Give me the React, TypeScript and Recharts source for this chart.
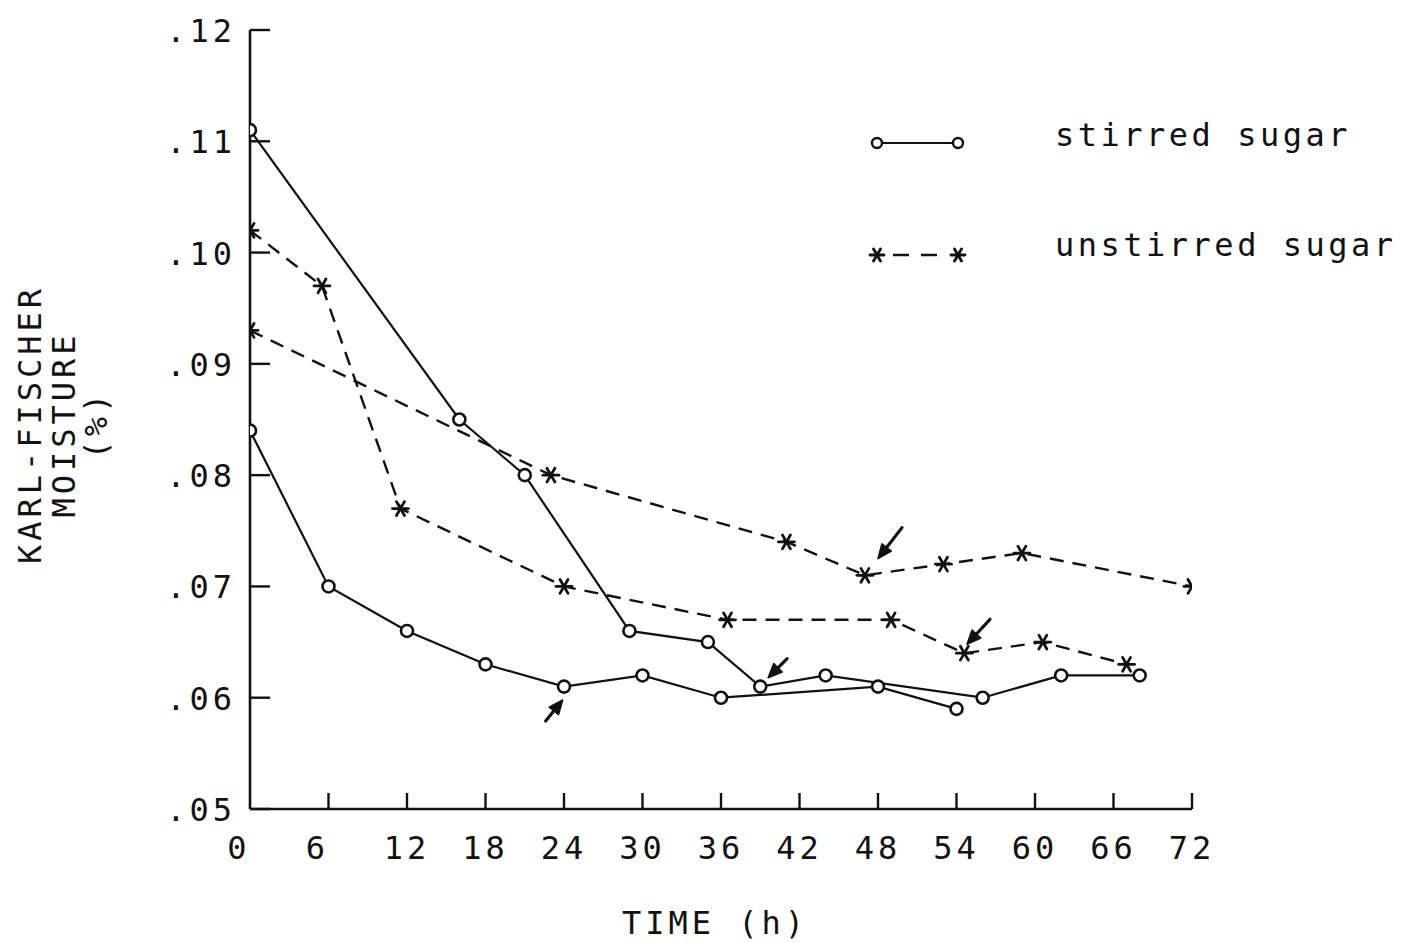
import React from 'react';
import { ComposedChart, Line, XAxis, YAxis, Legend } from 'recharts';

// ---------- data ----------
const timeTicks = [0, 6, 12, 18, 24, 30, 36, 42, 48, 54, 60, 66, 72];
const moistureTicks = [0.05, 0.06, 0.07, 0.08, 0.09, 0.1, 0.11, 0.12];
const moistureTickLabels = ['.05', '.06', '.07', '.08', '.09', '.10', '.11', '.12'];

const stirredRun1 = [
  { t: 0, v: 0.111 },
  { t: 16, v: 0.085 },
  { t: 21, v: 0.08 },
  { t: 29, v: 0.066 },
  { t: 35, v: 0.065 },
  { t: 39, v: 0.061 },
  { t: 44, v: 0.062 },
  { t: 56, v: 0.06 },
  { t: 62, v: 0.062 },
  { t: 68, v: 0.062 },
];

const stirredRun2 = [
  { t: 0, v: 0.084 },
  { t: 6, v: 0.07 },
  { t: 12, v: 0.066 },
  { t: 18, v: 0.063 },
  { t: 24, v: 0.061 },
  { t: 30, v: 0.062 },
  { t: 36, v: 0.06 },
  { t: 48, v: 0.061 },
  { t: 54, v: 0.059 },
];

const unstirredRun1 = [
  { t: 0, v: 0.093 },
  { t: 23, v: 0.08 },
  { t: 41, v: 0.074 },
  { t: 47, v: 0.071 },
  { t: 53, v: 0.072 },
  { t: 59, v: 0.073 },
  { t: 72, v: 0.07 },
];

const unstirredRun2 = [
  { t: 0, v: 0.102 },
  { t: 5.5, v: 0.097 },
  { t: 11.5, v: 0.077 },
  { t: 24, v: 0.07 },
  { t: 36.5, v: 0.067 },
  { t: 49, v: 0.067 },
  { t: 54.6, v: 0.064 },
  { t: 60.6, v: 0.065 },
  { t: 67, v: 0.063 },
];

// arrow annotations (tip positions)
const arrowTips = [
  { t: 23.9, v: 0.0598 },
  { t: 39.6, v: 0.0618 },
  { t: 48.0, v: 0.0725 },
  { t: 54.8, v: 0.0648 },
];

const legendLabels = ['stirred sugar', 'unstirred sugar'];
const xAxisTitle = 'TIME (h)';
const yAxisTitle = ['KARL-FISCHER', 'MOISTURE', '(%)'];

// ---------- styling ----------
const FONT = '"DejaVu Sans Mono", "Liberation Mono", monospace';
const FS = 32;
const LS = 4;
const INK = '#111';
const DASH = '14 9';
// tail offsets (px from tip) for each annotation arrow
const arrowTails = [
  [-17, 21],
  [19, -19],
  [24, -31],
  [23, -25],
];

const Asterisk = ({ cx, cy, s = 8, sw = 2.8 }: any) => (
  <g stroke={INK} strokeWidth={sw} strokeLinecap="round">
    <line x1={cx - s} y1={cy} x2={cx + s} y2={cy} />
    <line x1={cx - s * 0.5} y1={cy - s * 0.866} x2={cx + s * 0.5} y2={cy + s * 0.866} />
    <line x1={cx - s * 0.5} y1={cy + s * 0.866} x2={cx + s * 0.5} y2={cy - s * 0.866} />
  </g>
);

const renderCircle = (p: any) => {
  if (p.cx == null || p.cy == null) return <g key={`c${p.index}`} />;
  return (
    <circle key={`c${p.index}`} cx={p.cx} cy={p.cy} r={6} fill="#fff" stroke={INK} strokeWidth={2.6} />
  );
};

const renderStar = (p: any) => {
  if (p.cx == null || p.cy == null) return <g key={`s${p.index}`} />;
  return (
    <g key={`s${p.index}`}>
      <Asterisk cx={p.cx} cy={p.cy} />
    </g>
  );
};

const renderArrow = (p: any) => {
  if (p.cx == null || p.cy == null) return <g key={`a${p.index}`} />;
  const [dx, dy] = arrowTails[p.index] || [20, -20];
  const len = Math.sqrt(dx * dx + dy * dy);
  const ux = -dx / len;
  const uy = -dy / len;
  const head = 14;
  const hw = 6;
  const bx = p.cx - ux * head;
  const by = p.cy - uy * head;
  const nx = -uy;
  const ny = ux;
  return (
    <g key={`a${p.index}`}>
      <line x1={p.cx + dx} y1={p.cy + dy} x2={bx} y2={by} stroke={INK} strokeWidth={3.2} strokeLinecap="round" />
      <polygon
        points={`${p.cx},${p.cy} ${bx + nx * hw},${by + ny * hw} ${bx - nx * hw},${by - ny * hw}`}
        fill={INK}
        stroke={INK}
        strokeWidth={1.5}
        strokeLinejoin="round"
      />
    </g>
  );
};

const XTick = (props: any) => {
  const { x, y, payload } = props;
  const label = String(payload.value);
  const dx = label.length === 1 ? -11 : 0;
  return (
    <g>
      {payload.value !== 0 && (
        <line x1={x} y1={y} x2={x} y2={y - 16} stroke={INK} strokeWidth={2.4} />
      )}
      <text
        x={x + dx}
        y={y + 50}
        textAnchor="middle"
        fontFamily={FONT}
        fontSize={FS}
        letterSpacing={LS}
        fill={INK}
      >
        {label}
      </text>
    </g>
  );
};

const YTick = (props: any) => {
  const { x, y, payload } = props;
  const idx = moistureTicks.findIndex((m) => Math.abs(m - payload.value) < 1e-9);
  const label = idx >= 0 ? moistureTickLabels[idx] : String(payload.value);
  return (
    <g>
      <line x1={x} y1={y} x2={x + 20} y2={y} stroke={INK} strokeWidth={2.4} />
      <text
        x={x - 14}
        y={y + 12}
        textAnchor="end"
        fontFamily={FONT}
        fontSize={FS}
        letterSpacing={LS}
        fill={INK}
      >
        {label}
      </text>
    </g>
  );
};

const XTitle = (props: any) => {
  const vb = props.viewBox || { x: 250, y: 809, width: 942 };
  return (
    <text
      x={vb.x + vb.width / 2 - 6}
      y={vb.y + 125}
      textAnchor="middle"
      fontFamily={FONT}
      fontSize={FS}
      letterSpacing={LS}
      fill={INK}
    >
      {xAxisTitle}
    </text>
  );
};

const YTitle = (props: any) => {
  const vb = props.viewBox || { x: 190, y: 30, width: 60, height: 779 };
  const cy = vb.y + vb.height / 2 + 5;
  const xs = [vb.x - 149, vb.x - 115, vb.x - 83];
  return (
    <g>
      {yAxisTitle.map((line, i) => (
        <text
          key={line}
          x={xs[i]}
          y={cy}
          transform={`rotate(-90 ${xs[i]} ${cy})`}
          textAnchor="middle"
          fontFamily={FONT}
          fontSize={FS}
          letterSpacing={LS}
          fill={INK}
        >
          {line}
        </text>
      ))}
    </g>
  );
};

const renderLegend = () => (
  <svg width={550} height={190} style={{ display: 'block', overflow: 'visible' }}>
    {legendLabels.map((label, i) => {
      const my = i === 0 ? 43 : 155;
      const ty = i === 0 ? 46 : 156;
      return (
        <g key={label}>
          {i === 0 ? (
            <g>
              <line x1={17} y1={my} x2={98} y2={my} stroke={INK} strokeWidth={2.2} />
              <circle cx={17} cy={my} r={5} fill="#fff" stroke={INK} strokeWidth={2.4} />
              <circle cx={98} cy={my} r={5} fill="#fff" stroke={INK} strokeWidth={2.4} />
            </g>
          ) : (
            <g>
              <line x1={33} y1={my} x2={83} y2={my} stroke={INK} strokeWidth={2.4} strokeDasharray="16 12" />
              <Asterisk cx={17} cy={my} s={7} />
              <Asterisk cx={98} cy={my} s={7} />
            </g>
          )}
          <text x={195} y={ty} fontFamily={FONT} fontSize={FS} letterSpacing={LS - 0.5} fill={INK}>
            {label}
          </text>
        </g>
      );
    })}
  </svg>
);

export default function App() {
  return (
    <div style={{ position: 'absolute', left: 0, top: 0, width: 1413, height: 943, background: '#fff' }}>
      <ComposedChart width={1413} height={943} margin={{ top: 30, right: 221, bottom: 104, left: 190 }}>
        <XAxis
          dataKey="t"
          type="number"
          domain={[0, 72]}
          ticks={timeTicks}
          interval={0}
          allowDataOverflow
          tickLine={false}
          tickSize={0}
          tickMargin={0}
          height={30}
          axisLine={{ stroke: INK, strokeWidth: 2.6 }}
          tick={<XTick />}
          label={<XTitle />}
        />
        <YAxis
          type="number"
          domain={[0.05, 0.12]}
          ticks={moistureTicks}
          interval={0}
          allowDataOverflow
          tickLine={false}
          tickSize={0}
          tickMargin={0}
          width={60}
          axisLine={{ stroke: INK, strokeWidth: 2.6 }}
          tick={<YTick />}
          label={<YTitle />}
        />
        <Legend
          layout="vertical"
          align="center"
          verticalAlign="middle"
          content={renderLegend}
          wrapperStyle={{ left: 860, top: 100, width: 550, height: 190 }}
        />
        <Line
          data={stirredRun1}
          dataKey="v"
          name="stirred sugar"
          stroke={INK}
          strokeWidth={2.2}
          dot={renderCircle}
          activeDot={false}
          isAnimationActive={false}
        />
        <Line
          data={stirredRun2}
          dataKey="v"
          name="stirred sugar (run 2)"
          legendType="none"
          stroke={INK}
          strokeWidth={2.2}
          dot={renderCircle}
          activeDot={false}
          isAnimationActive={false}
        />
        <Line
          data={unstirredRun1}
          dataKey="v"
          name="unstirred sugar"
          stroke={INK}
          strokeWidth={2.4}
          strokeDasharray={DASH}
          dot={renderStar}
          activeDot={false}
          isAnimationActive={false}
        />
        <Line
          data={unstirredRun2}
          dataKey="v"
          name="unstirred sugar (run 2)"
          legendType="none"
          stroke={INK}
          strokeWidth={2.4}
          strokeDasharray={DASH}
          dot={renderStar}
          activeDot={false}
          isAnimationActive={false}
        />
        <Line
          data={arrowTips}
          dataKey="v"
          name="arrows"
          legendType="none"
          stroke="none"
          dot={renderArrow}
          activeDot={false}
          isAnimationActive={false}
        />
      </ComposedChart>
    </div>
  );
}
